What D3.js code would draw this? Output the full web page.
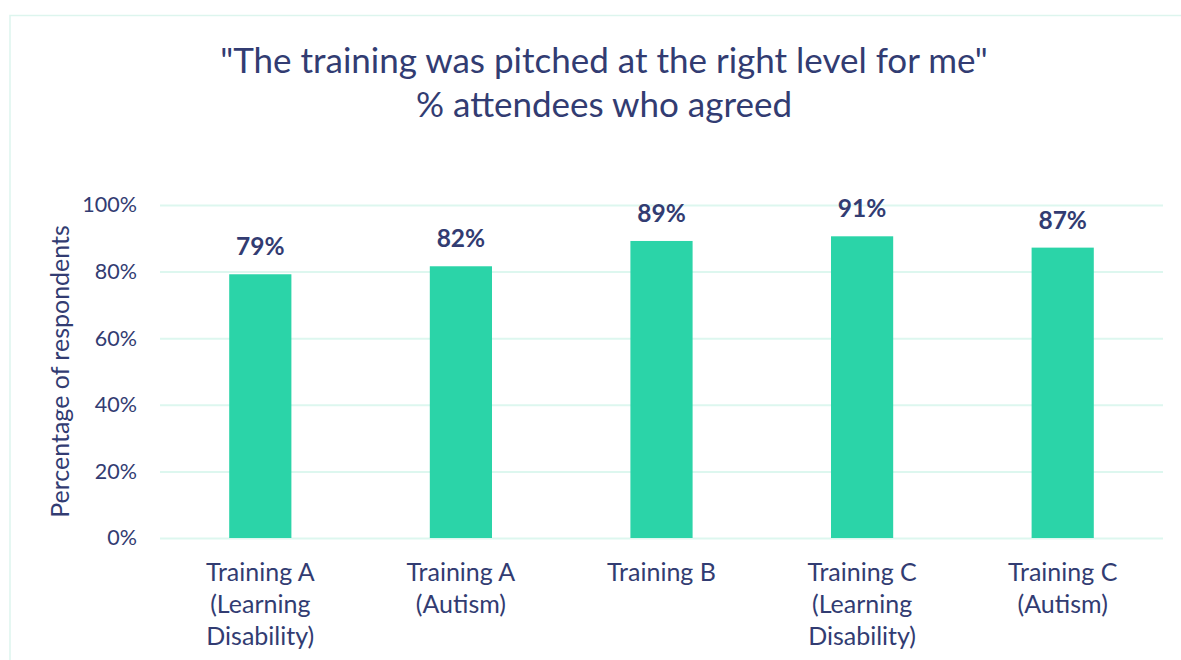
<!DOCTYPE html>
<html><head><meta charset="utf-8">
<script src="https://cdn.jsdelivr.net/npm/d3@7"></script>
<style>body{margin:0;background:#fff}svg{display:block}</style>
</head><body>
<svg id="c" width="1181" height="660"></svg>
<script>
const categories = [
  ["Training A","(Learning","Disability)"],
  ["Training A","(Autism)"],
  ["Training B"],
  ["Training C","(Learning","Disability)"],
  ["Training C","(Autism)"]
];
const values = [79.2, 81.6, 89.2, 90.6, 87.2];
const yTicks = [0, 20, 40, 60, 80, 100];
const titleLines = ['"The training was pitched at the right level for me"', '% attendees who agreed'];
const yTitle = "Percentage of respondents";

const W = 1181, H = 660;
const font = "Lato, 'Open Sans', sans-serif";
const navy = "#323C72";
const svg = d3.select("#c");

svg.append("rect").attr("x", 10).attr("y", 15.5).attr("width", 1200).attr("height", 700)
  .attr("fill", "none").attr("stroke", "#DDF5EE").attr("stroke-width", 1.5);

const m = {l: 160, r: 1163, t: 205, b: 538};
const x = d3.scaleBand().domain(d3.range(values.length)).range([m.l, m.r]).paddingInner(0.69).paddingOuter(0.345);
const y = d3.scaleLinear().domain([0, 100]).range([m.b, m.t]);

const ya = svg.append("g").attr("transform", `translate(${m.l},0)`)
  .call(d3.axisLeft(y).tickValues(yTicks).tickFormat(d => d + "%").tickSize(-(m.r - m.l)).tickPadding(23));
ya.select(".domain").remove();
ya.selectAll(".tick line").attr("stroke", "#DDF7EF").attr("stroke-width", 2);
ya.selectAll(".tick text").attr("fill", navy).attr("font-family", font).attr("font-size", 21.5);

svg.append("g").selectAll("rect").data(values).join("rect")
  .attr("x", (d, i) => x(i)).attr("width", x.bandwidth())
  .attr("y", d => y(d)).attr("height", d => y(0) - y(d))
  .attr("fill", "#2BD4A8");

svg.append("g").selectAll("text").data(values).join("text")
  .attr("x", (d, i) => x(i) + x.bandwidth() / 2).attr("y", d => y(d) - 19)
  .attr("text-anchor", "middle").attr("font-family", font).attr("font-weight", "bold")
  .attr("font-size", 24.5).attr("fill", navy).text(d => Math.round(d) + "%");

const xl = svg.append("g").selectAll("text").data(categories).join("text")
  .attr("text-anchor", "middle").attr("font-family", font).attr("font-size", 25).attr("fill", navy)
  .attr("transform", (d, i) => `translate(${x(i) + x.bandwidth() / 2},581)`);
xl.selectAll("tspan").data(d => d).join("tspan").attr("x", 0).attr("dy", (d, j) => j ? 32 : 0).text(d => d);

svg.append("text").attr("transform", `translate(69,${(m.t + m.b) / 2}) rotate(-90)`)
  .attr("text-anchor", "middle").attr("font-family", font).attr("font-size", 25).attr("fill", navy).text(yTitle);

svg.append("g").selectAll("text").data(titleLines).join("text")
  .attr("x", 604).attr("y", (d, i) => 73 + i * 44).attr("text-anchor", "middle")
  .attr("font-family", font).attr("font-size", 35).attr("fill", navy).text(d => d);
</script>
</body></html>
